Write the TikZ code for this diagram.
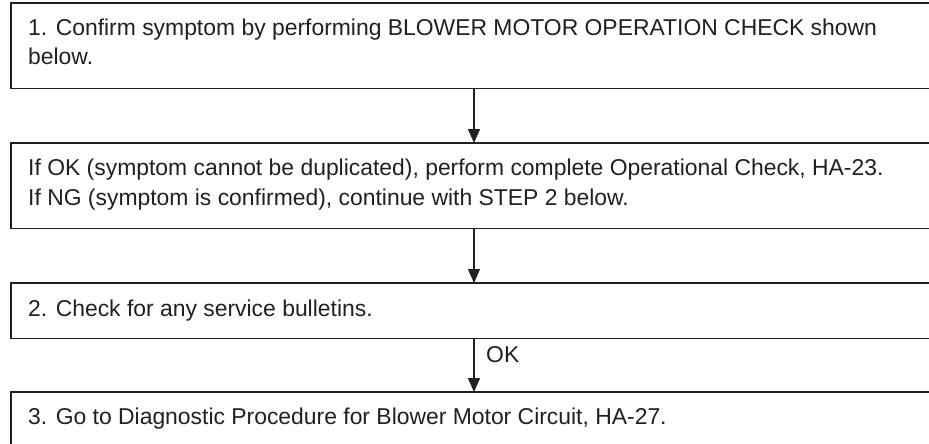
\documentclass[tikz,border=0pt]{standalone}
\usepackage{fontspec}
\setmainfont{Liberation Sans}
\usetikzlibrary{arrows.meta}
\definecolor{ink}{RGB}{35,31,32}
\begin{document}
\begin{tikzpicture}[x=1pt,y=-1pt,
  boxshape/.style={draw=none,rectangle,inner sep=0pt,minimum width=930pt,anchor=north west},
  border/.style={draw=ink,line width=1.3pt},
  label/.style={anchor=base west,inner sep=0pt,text=ink,align=left,font=\fontsize{22.9}{29.5}\selectfont},
  flow/.style={draw=ink,line width=1.3pt,-{Triangle[length=14pt,width=12pt]}}]
\useasboundingbox (0,0) rectangle (929,444);
\clip (0,0) rectangle (929,444);
\node[boxshape,minimum height=85pt] (b1) at (11,3) {};
\node[boxshape,minimum height=85pt] (b2) at (11,143) {};
\node[boxshape,minimum height=55pt] (b3) at (11,283) {};
\node[boxshape,minimum height=80pt] (b4) at (11,392) {};
\foreach \b in {b1,b2,b3,b4}{
  \draw[border] (\b.north east) -- (\b.north west) -- (\b.south west) -- (\b.south east);
}
\node[label] (t1) at (28,65) {1. Confirm symptom by performing BLOWER MOTOR OPERATION CHECK shown\\below.};
\node[label] (t2) at (28,205) {If OK (symptom cannot be duplicated), perform complete Operational Check, HA-23.\\If NG (symptom is confirmed), continue with STEP 2 below.};
\node[label] (t3) at (28,316) {2. Check for any service bulletins.};
\node[label] (t4) at (28,424) {3. Go to Diagnostic Procedure for Blower Motor Circuit, HA-27.};
\coordinate (ax) at (474,0);
\draw[flow] (b1.south -| ax) -- (b2.north -| ax);
\draw[flow] (b2.south -| ax) -- (b3.north -| ax);
\draw[flow] (b3.south -| ax) -- (b4.north -| ax);
\node[label] (ok) at (486,362) {OK};
\end{tikzpicture}
\end{document}
